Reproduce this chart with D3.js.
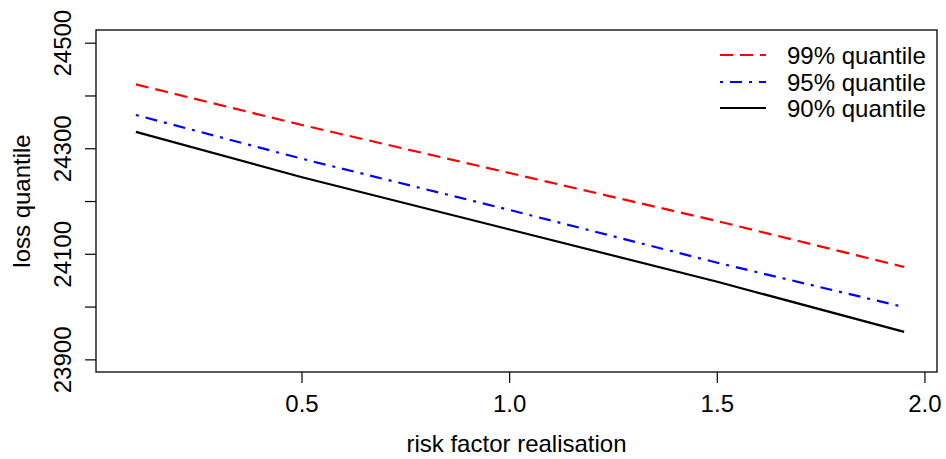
<!DOCTYPE html>
<html lang="en">
<head>
  <meta charset="utf-8">
  <script src="https://d3js.org/d3.v7.min.js"></script>
  <style>
    body { margin: 0; background: #fff; }
    svg text { font-family: "Liberation Sans", Arial, Helvetica, sans-serif; fill: #000; }
  </style>
</head>
<body>
<svg id="chart" width="946" height="459"></svg>
<script>
  // risk factor realisation values
  var xs = [0.1, 0.5, 1.0, 1.5, 1.95];
  // loss quantiles
  var q99 = [24422, 24345, 24254, 24163, 24076];
  var q95 = [24364, 24281, 24184, 24084, 24000];
  var q90 = [24332, 24246, 24147, 24048, 23953];

  var xTicks = [0.5, 1.0, 1.5, 2.0];
  var yTicks = [23900, 24000, 24100, 24200, 24300, 24400, 24500];
  var yLabels = [23900, 24100, 24300, 24500];

  var seriesNames = ["99% quantile", "95% quantile", "90% quantile"];
  var seriesColors = ["#ff0000", "#0000ff", "#000000"];
  var seriesDash = ["13,7", "3,7,12,7", null];
  var seriesData = [q99, q95, q90];

  var svg = d3.select("#chart");
  // plot box (named so they don't clash with window.top)
  var boxL = 96, boxR = 937, boxT = 30, boxB = 372;

  var x = d3.scaleLinear().domain([0.004, 2.029]).range([boxL, boxR]);
  var y = d3.scaleLinear().domain([23877, 24525]).range([boxB, boxT]);

  // box
  svg.append("rect")
    .attr("x", boxL).attr("y", boxT)
    .attr("width", boxR - boxL).attr("height", boxB - boxT)
    .attr("fill", "none").attr("stroke", "#000").attr("stroke-width", 1.3);

  // x axis ticks
  svg.selectAll(".xtick").data(xTicks).enter().append("line")
    .attr("x1", d => x(d)).attr("x2", d => x(d))
    .attr("y1", boxB).attr("y2", boxB + 11)
    .attr("stroke", "#000").attr("stroke-width", 1.2);
  svg.selectAll(".xlab").data(xTicks).enter().append("text")
    .attr("x", d => x(d)).attr("y", 412)
    .attr("text-anchor", "middle").style("font-size", "24px")
    .text(d => d.toFixed(1));

  // y axis ticks
  svg.selectAll(".ytick").data(yTicks).enter().append("line")
    .attr("x1", boxL - 11).attr("x2", boxL)
    .attr("y1", d => y(d)).attr("y2", d => y(d))
    .attr("stroke", "#000").attr("stroke-width", 1.2);
  svg.selectAll(".ylab").data(yLabels).enter().append("text")
    .attr("transform", d => "translate(71," + y(d) + ") rotate(-90)")
    .attr("text-anchor", "middle").style("font-size", "24px")
    .text(d => d);

  // axis titles
  svg.append("text")
    .attr("x", (boxL + boxR) / 2).attr("y", 452)
    .attr("text-anchor", "middle").style("font-size", "24px")
    .text("risk factor realisation");
  svg.append("text")
    .attr("transform", "translate(30," + (boxT + boxB) / 2 + ") rotate(-90)")
    .attr("text-anchor", "middle").style("font-size", "24px")
    .text("loss quantile");

  // lines
  var line = d3.line().x(d => x(d[0])).y(d => y(d[1]));
  seriesData.forEach(function(vals, i) {
    svg.append("path")
      .datum(xs.map((v, j) => [v, vals[j]]))
      .attr("d", line)
      .attr("fill", "none")
      .attr("stroke", seriesColors[i])
      .attr("stroke-width", 2.2)
      .attr("stroke-dasharray", seriesDash[i]);
  });

  // legend
  var legY = [55, 82, 108];
  seriesNames.forEach(function(name, i) {
    svg.append("line")
      .attr("x1", 720).attr("x2", 766)
      .attr("y1", legY[i]).attr("y2", legY[i])
      .attr("stroke", seriesColors[i])
      .attr("stroke-width", 2.2)
      .attr("stroke-dasharray", seriesDash[i]);
    svg.append("text")
      .attr("x", 787).attr("y", legY[i] + 8.5)
      .style("font-size", "24px")
      .text(name);
  });
</script>
</body>
</html>
